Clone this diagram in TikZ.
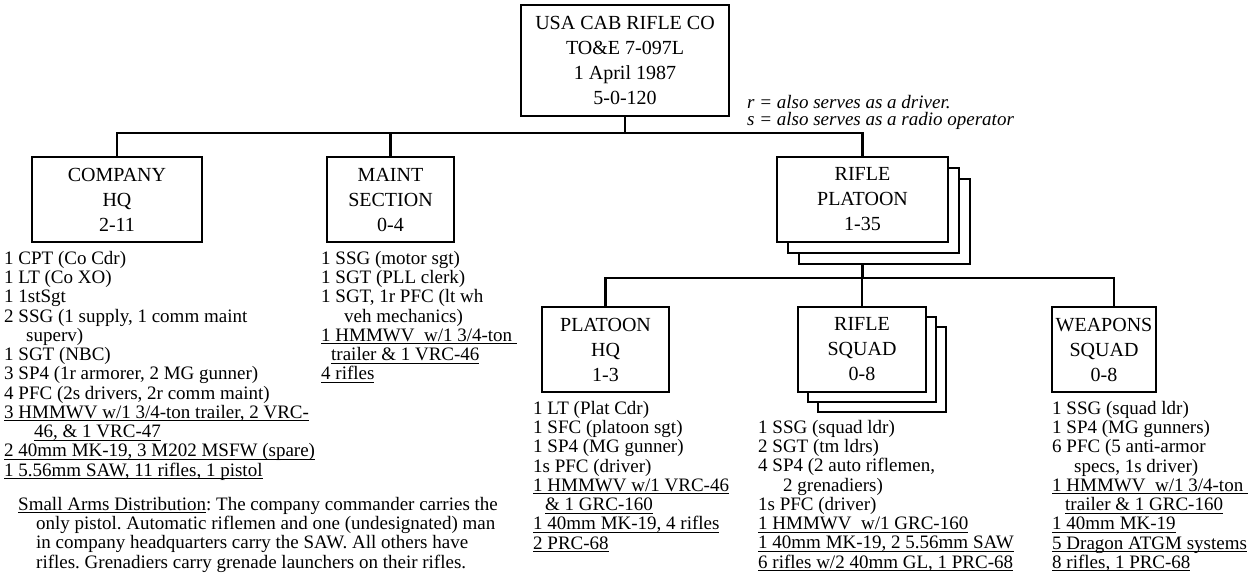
\documentclass[tikz,border=0pt]{standalone}
\usepackage{fontspec}
\setmainfont{Liberation Serif}
\usetikzlibrary{calc}
\newcommand{\boxfont}{\fontsize{20}{25}\selectfont}
\newcommand{\rosterfont}{\fontsize{19}{19.25}\selectfont\frenchspacing\lineskiplimit=-20pt}
\newcommand{\keyfont}{\fontsize{19}{17}\selectfont\itshape\lineskiplimit=-20pt}
% underline at a fixed depth, as in the chart
\newcommand{\undl}[1]{\setbox0\hbox{#1}\rlap{\rule[-3pt]{\wd0}{1.1pt}}\box0}

\tikzset{
  unit/.style={draw, line width=2.2pt, fill=white, align=center, inner sep=0pt,
               minimum height=85pt, font=\boxfont},
  link/.style={line width=2.5pt},
  bus/.style={line width=2.5pt, line cap=rect},
  roster/.style={anchor=north west, inner sep=0pt, align=left, font=\rosterfont}
}

\begin{document}
\begin{tikzpicture}[x=1pt,y=-1pt]
  \path[use as bounding box, fill=white] (0,0) rectangle (1255,576);

  % company
  \node[unit, minimum width=208pt, minimum height=111pt] (co) at (625,60.5)
       {USA CAB RIFLE CO\\TO\&E 7-097L\\1 April 1987\\5-0-120};
  \node[anchor=north west, inner sep=0pt, align=left, font=\keyfont] (key) at (747,95)
       {r = also serves as a driver.\\s = also serves as a radio operator};

  % sections
  \node[unit, minimum width=170pt] (chq) at (117,199.5) {COMPANY\\HQ\\2-11};
  \node[unit, minimum width=127pt] (mnt) at (390.5,199.5) {MAINT\\SECTION\\0-4};
  \foreach \k in {2,1}
    \node[unit, minimum width=171pt] (plt\k) at (862.5+11*\k,199.5+11*\k) {};
  \node[unit, minimum width=171pt] (plt) at (862.5,199.5) {RIFLE\\PLATOON\\1-35};

  % platoon
  \node[unit, minimum width=127pt] (phq) at (605.5,349.5) {PLATOON\\HQ\\1-3};
  \foreach \k in {2,1}
    \node[unit, minimum width=128pt] (sqd\k) at (862+10*\k,349.5+10*\k) {};
  \node[unit, minimum width=128pt] (sqd) at (862,349.5) {RIFLE\\SQUAD\\0-8};
  \node[unit, minimum width=104pt] (wsq) at (1104,349.5) {WEAPONS\\SQUAD\\0-8};

  % lines
  \coordinate (bus1) at (0,133);
  \coordinate (bus2) at (0,278);
  \coordinate (wtap) at ([xshift=10pt]wsq.north);
  \draw[link] (co.south) -- (co.south |- bus1);
  \draw[bus] (chq.north |- bus1) -- (plt.north |- bus1);
  \foreach \n in {chq,mnt,plt}
    \draw[link] (\n.north |- bus1) -- (\n.north);
  \draw[link] (plt.south |- plt2.south) -- (plt.south |- bus2);
  \draw[bus] (phq.north |- bus2) -- (wtap |- bus2);
  \foreach \n in {phq.north,sqd.north,wtap}
    \draw[link] (\n |- bus2) -- (\n);

  % personnel and equipment
  \node[roster] (chql) at (4,251) {1 CPT (Co Cdr)\\1 LT (Co XO)\\1 1stSgt\\
    2 SSG (1 supply, 1 comm maint\\\hspace*{22pt}superv)\\1 SGT (NBC)\\
    3 SP4 (1r armorer, 2 MG gunner)\\4 PFC (2s drivers, 2r comm maint)\\
    \undl{3 HMMWV w/1 3/4-ton trailer, 2 VRC-}\\\hspace*{30pt}\undl{46, \& 1 VRC-47}\\
    \undl{2 40mm MK-19, 3 M202 MSFW (spare)}\\\undl{1 5.56mm SAW, 11 rifles, 1 pistol}};
  \node[roster] (mntl) at (321,251) {1 SSG (motor sgt)\\1 SGT (PLL clerk)\\
    1 SGT, 1r PFC (lt wh\\\hspace*{23pt}veh mechanics)\\
    \undl{1 HMMWV\ \ w/1 3/4-ton\ }\\\hspace*{10pt}\undl{trailer \& 1 VRC-46}\\
    \undl{4 rifles}};
  \node[roster] (phql) at (533,401) {1 LT (Plat Cdr)\\1 SFC (platoon sgt)\\
    1 SP4 (MG gunner)\\1s PFC (driver)\\\undl{1 HMMWV w/1 VRC-46}\\
    \hspace*{12pt}\undl{\& 1 GRC-160}\\\undl{1 40mm MK-19, 4 rifles}\\\undl{2 PRC-68}};
  \node[roster] (sqdl) at (758,420) {1 SSG (squad ldr)\\2 SGT (tm ldrs)\\
    4 SP4 (2 auto riflemen,\\\hspace*{25pt}2 grenadiers)\\1s PFC (driver)\\
    \undl{1 HMMWV\ \ w/1 GRC-160}\\\undl{1 40mm MK-19, 2 5.56mm SAW}\\
    \undl{6 rifles w/2 40mm GL, 1 PRC-68}};
  \node[roster] (wsql) at (1052,401) {1 SSG (squad ldr)\\1 SP4 (MG gunners)\\
    6 PFC (5 anti-armor\\\hspace*{22pt}specs, 1s driver)\\
    \undl{1 HMMWV\ \ w/1 3/4-ton\ }\\\hspace*{13pt}\undl{trailer \& 1 GRC-160}\\
    \undl{1 40mm MK-19}\\\undl{5 Dragon ATGM systems}\\\undl{8 rifles, 1 PRC-68}};

  % note
  \node[roster] (arms) at (18,497) {\undl{Small Arms Distribution}: The company commander carries the\\
    \hspace*{18pt}only pistol. Automatic riflemen and one (undesignated) man\\
    \hspace*{18pt}in company headquarters carry the SAW. All others have\\
    \hspace*{18pt}rifles. Grenadiers carry grenade launchers on their rifles.};
\end{tikzpicture}
\end{document}
